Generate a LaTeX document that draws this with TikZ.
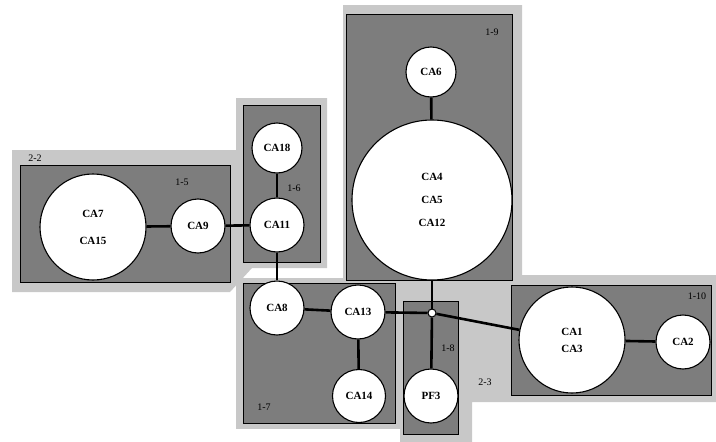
\documentclass[tikz,border=0pt]{standalone}
\usepackage{fontspec}
\setmainfont{Liberation Serif}
\definecolor{lightg}{RGB}{200,200,200}
\definecolor{darkg}{RGB}{125,125,125}
\begin{document}
\begin{tikzpicture}[x=1pt,y=-1pt,
  light/.style={fill=lightg, draw=none},
  darkbox/.style={fill=darkg, draw=black, line width=0.8pt},
  ca/.style={circle, draw=black, fill=white, line width=1.1pt, inner sep=0pt,
    minimum size=#1, font=\bfseries\fontsize{11}{13}\selectfont, align=center},
  link/.style={line width=2.6pt},
  lab/.style={font=\fontsize{10}{11}\selectfont, inner sep=0pt}]
\useasboundingbox (0,0) rectangle (716,442);
% light regions
\fill[light] (12,150) -- (236,150) -- (236,98) -- (327,98) -- (327,268) -- (252,268)
  -- (230,292) -- (12,292) -- cycle;
\fill[light] (236,278) rectangle (400,429);
\fill[light] (343,5) -- (522,5) -- (522,275) -- (716,275) -- (716,402) -- (472,402)
  -- (472,442) -- (400,442) -- (400,288) -- (343,288) -- cycle;
% dark boxes
\draw[darkbox] (20,165) rectangle (230,282);
\draw[darkbox] (243,105) rectangle (320,262);
\draw[darkbox] (346,14) rectangle (512,280);
\draw[darkbox] (243,283) rectangle (395,423);
\draw[darkbox] (403,301) rectangle (458,434);
\draw[darkbox] (511,285) rectangle (711,395);
% circles
\node[ca=106pt] (ca7) at (93,227) {CA7\\[14pt]CA15};
\node[ca=54pt] (ca9) at (198,226) {CA9};
\node[ca=54pt] (ca11) at (277,225) {CA11};
\node[ca=50pt] (ca18) at (277,148) {CA18};
\node[ca=50pt] (ca6) at (431,72) {CA6};
\node[ca=160pt] (big) at (432,200) {CA4\\[10pt]CA5\\[10pt]CA12};
\node[ca=54pt] (ca8) at (277,308) {CA8};
\node[ca=54pt] (ca13) at (358,312) {CA13};
\node[ca=53pt] (ca14) at (359,396) {CA14};
\node[ca=54pt] (pf3) at (431,396) {PF3};
\node[ca=106pt] (ca1) at (572,340) {CA1\\[4pt]CA3};
\node[ca=54pt] (ca2) at (683,342) {CA2};
\node[circle, draw=black, fill=white, line width=1pt, minimum size=8pt, inner sep=0pt] (j) at (432,313) {};
% connectors
\draw[link] (ca7) -- (ca9);
\draw[link] (ca9) -- (ca11);
\draw[link] (ca18) -- (ca11);
\draw[link] (ca11) -- (ca8);
\draw[link] (ca8) -- (ca13);
\draw[link] (ca13) -- (j);
\draw[link] (ca13) -- (ca14);
\draw[link] (big) -- (j);
\draw[link] (j) -- (pf3);
\draw[link] (j) -- (ca1);
\draw[link] (ca1) -- (ca2);
\draw[link] (ca6) -- (big);
% labels
\node[lab] (l22) at (35,158) {2-2};
\node[lab] (l15) at (182,182) {1-5};
\node[lab] (l16) at (294,188) {1-6};
\node[lab] (l19) at (492,32) {1-9};
\node[lab] (l17) at (264,407) {1-7};
\node[lab] (l18) at (448,348) {1-8};
\node[lab] (l23) at (485,382) {2-3};
\node[lab] (l110) at (697,296) {1-10};
\end{tikzpicture}
\end{document}
